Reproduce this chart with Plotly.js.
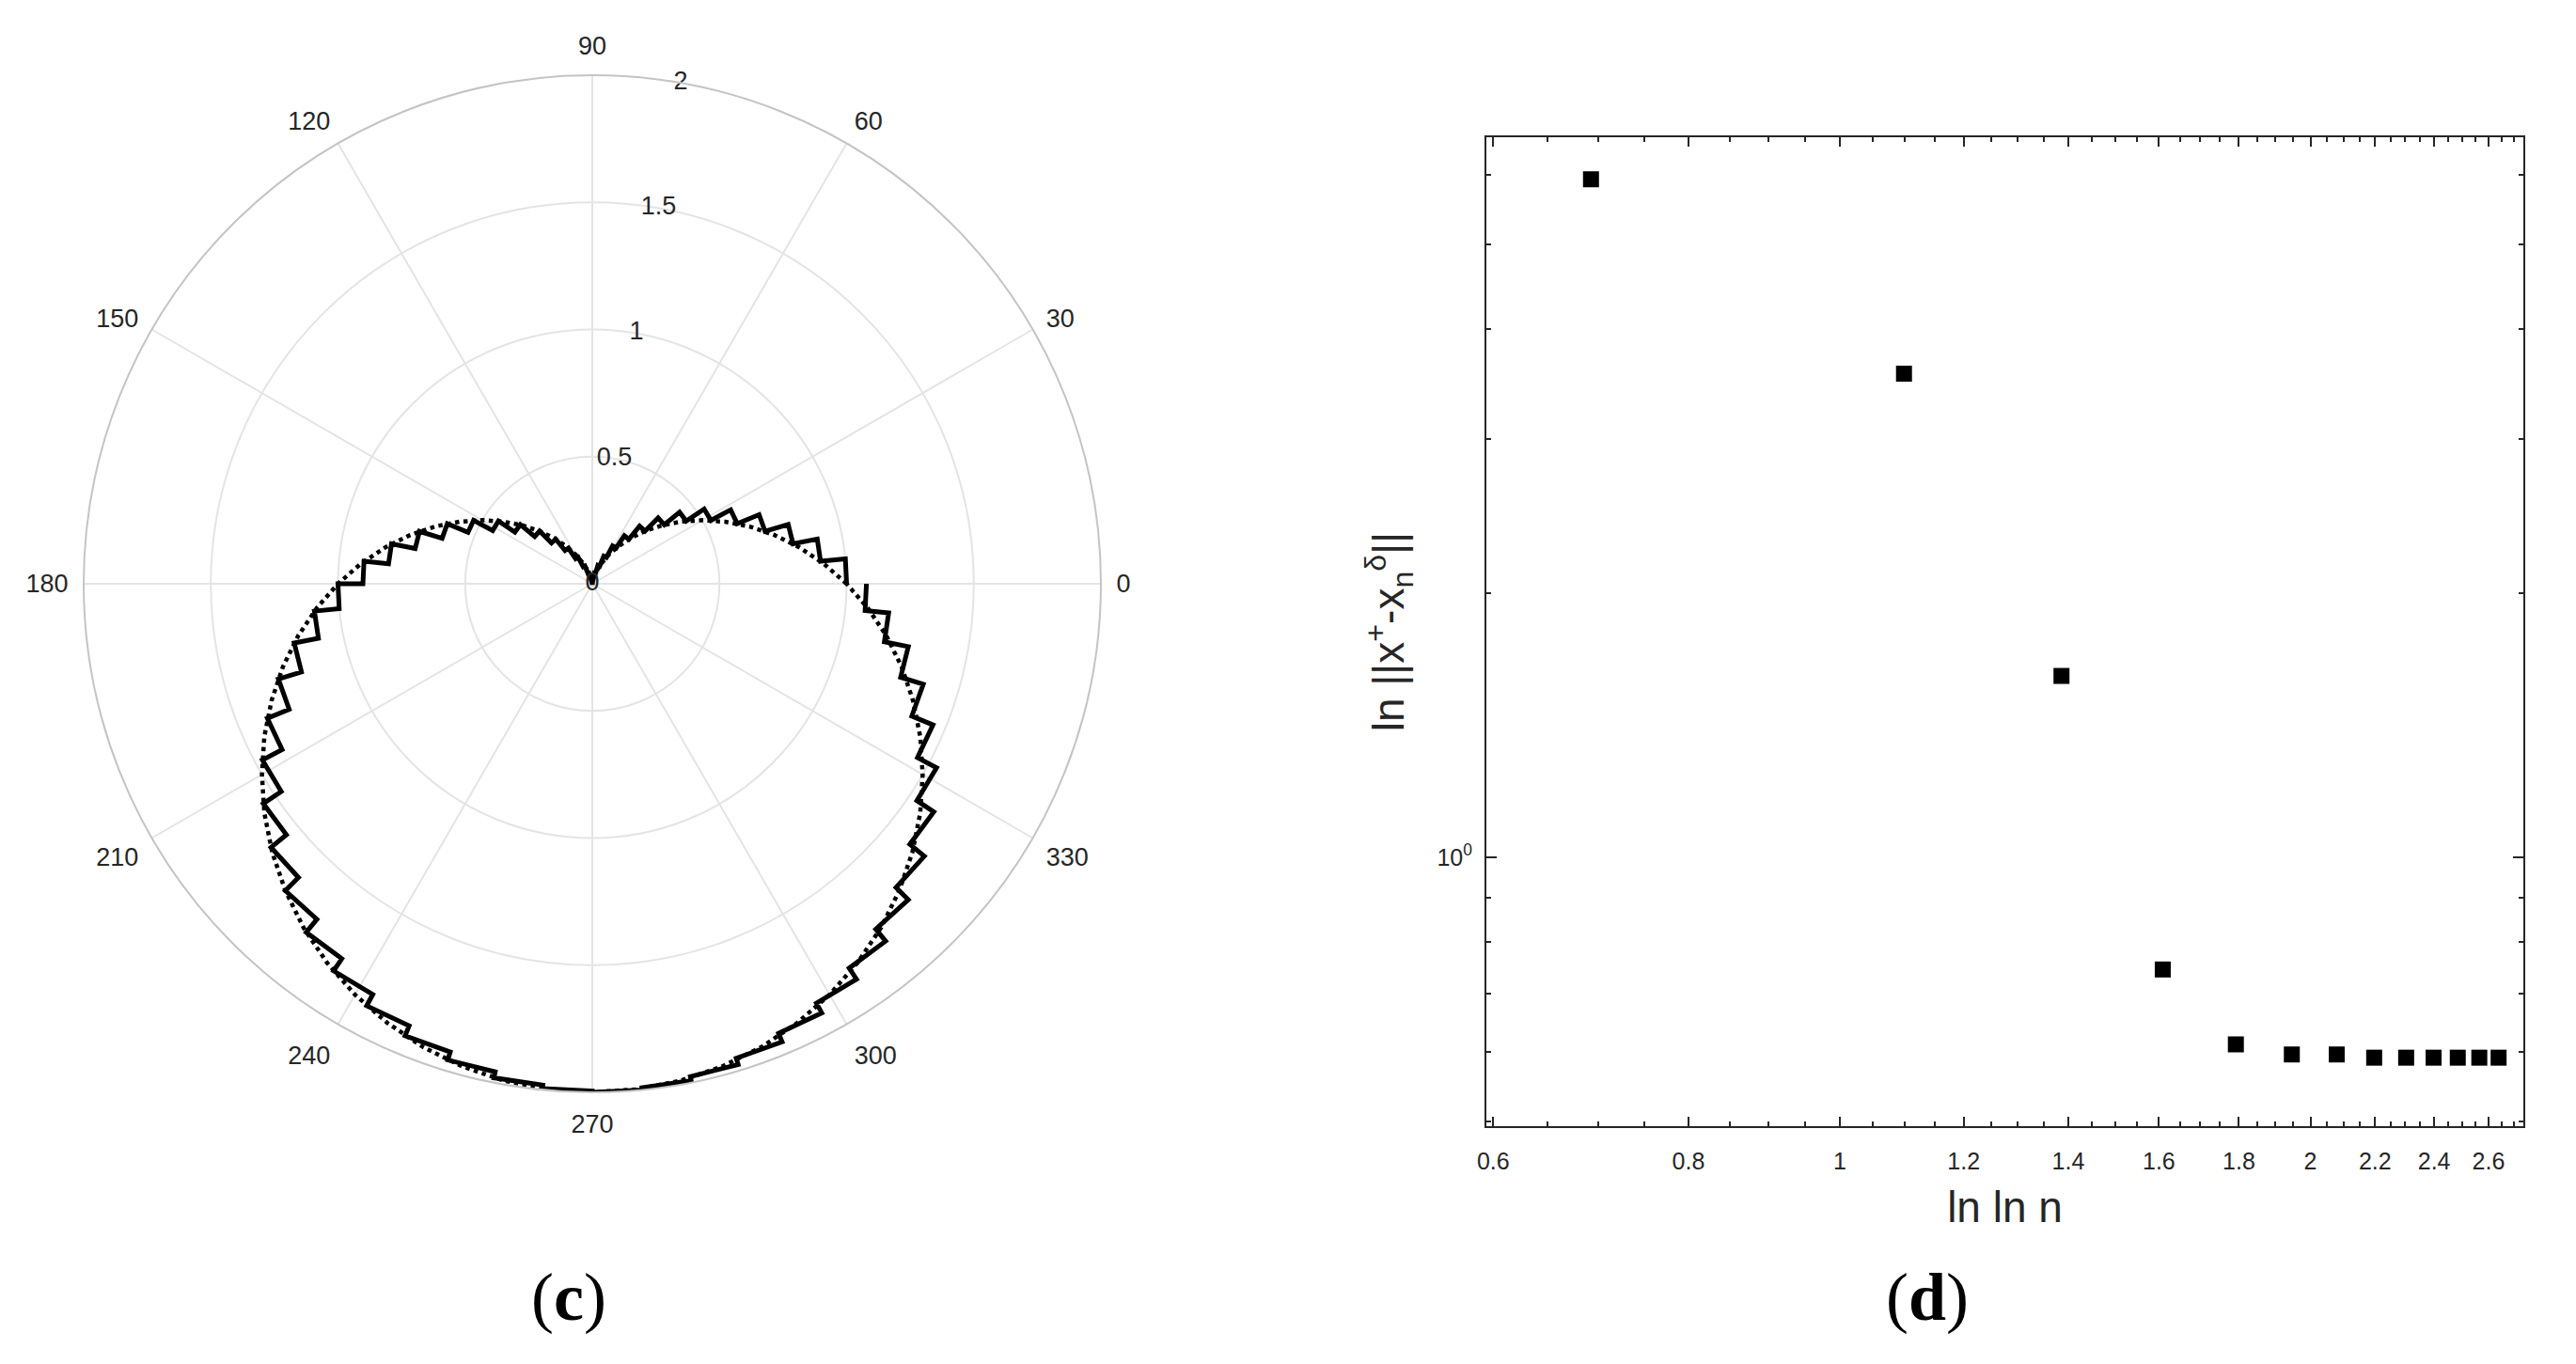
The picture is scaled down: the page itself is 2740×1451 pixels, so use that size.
<!DOCTYPE html>
<html><head><meta charset="utf-8">
<script src="https://cdn.plot.ly/plotly-3.0.1.min.js"></script>
<style>html,body{margin:0;padding:0;background:#fff;} #chart{width:2740px;height:1451px;}</style>
</head><body><div id="chart"></div>
<script>
// ---- panel (c): polar ----
const cardioidTheta = [0,5,10,15,20,25,30,35,40,45,50,55,60,65,70,75,80,85,90,95,100,105,110,115,120,125,130,135,140,145,150,155,160,165,170,175,180,185,190,195,200,205,210,215,220,225,230,235,240,245,250,255,260,265,270,275,280,285,290,295,300,305,310,315,320,325,330,335,340,345,350,355,360];
const cardioidR = [1.000,0.913,0.826,0.741,0.658,0.577,0.500,0.426,0.357,0.293,0.234,0.181,0.134,0.094,0.060,0.034,0.015,0.004,0.000,0.004,0.015,0.034,0.060,0.094,0.134,0.181,0.234,0.293,0.357,0.426,0.500,0.577,0.658,0.741,0.826,0.913,1.000,1.087,1.174,1.259,1.342,1.423,1.500,1.574,1.643,1.707,1.766,1.819,1.866,1.906,1.940,1.966,1.985,1.996,2.000,1.996,1.985,1.966,1.940,1.906,1.866,1.819,1.766,1.707,1.643,1.574,1.500,1.423,1.342,1.259,1.174,1.087,1.000];
const stairEdges = [0,5.625,11.25,16.875,22.5,28.125,33.75,39.375,45,50.625,56.25,61.875,67.5,73.125,78.75,84.375,90,95.625,101.25,106.875,112.5,118.125,123.75,129.375,135,140.625,146.25,151.875,157.5,163.125,168.75,174.375,180,185.625,191.25,196.875,202.5,208.125,213.75,219.375,225,230.625,236.25,241.875,247.5,253.125,258.75,264.375,270,275.625,281.25,286.875,292.5,298.125,303.75,309.375,315,320.625,326.25,331.875,337.5,343.125,348.75,354.375,360];
const stairR = [1.000,0.902,0.805,0.710,0.617,0.529,0.444,0.366,0.293,0.227,0.169,0.118,0.076,0.043,0.019,0.005,0.000,0.005,0.019,0.043,0.076,0.118,0.169,0.227,0.293,0.366,0.444,0.529,0.617,0.710,0.805,0.902,1.000,1.098,1.195,1.290,1.383,1.471,1.556,1.634,1.707,1.773,1.831,1.882,1.924,1.957,1.981,1.995,2.000,1.992,1.976,1.950,1.914,1.870,1.818,1.757,1.689,1.615,1.535,1.450,1.360,1.267,1.171,1.078];
const radialTickVals = [0,0.5,1,1.5,2];
const radialTickText = ['0','0.5','1','1.5','2'];
const angularTickVals = [0,30,60,90,120,150,180,210,240,270,300,330];
const angularTickText = ['0','30','60','90','120','150','180','210','240','270','300','330'];

// ---- panel (d): log-log scatter ----
const xVals = [0.693,1.099,1.386,1.609,1.792,1.946,2.079,2.197,2.303,2.398,2.485,2.565,2.639];
const yVals = [5.93,3.56,1.61,0.745,0.612,0.596,0.596,0.591,0.591,0.591,0.591,0.591,0.591];
const xTickVals = [0.6,0.8,1,1.2,1.4,1.6,1.8,2,2.2,2.4,2.6];
const xTickText = ['0.6','0.8','1','1.2','1.4','1.6','1.8','2','2.2','2.4','2.6'];
const xMinorTicks = [0.65,0.7,0.75,0.85,0.9,0.95,1.05,1.1,1.15,1.25,1.3,1.35,1.45,1.5,1.55,1.65,1.7,1.75,1.85,1.9,1.95,2.05,2.1,2.15,2.25,2.3,2.35,2.45,2.5,2.55,2.65,2.7];
const yTickVals = [1];
const yTickText = ['10<sup>0</sup>'];
const yMinorTicks = [0.5,0.6,0.7,0.8,0.9,2,3,4,5,6];

const stairTheta = [], stairRad = [];
for (let k = 0; k < stairR.length; k++) {
  stairTheta.push(stairEdges[k], stairEdges[k+1]);
  stairRad.push(stairR[k], stairR[k]);
}

const FONT = 'Liberation Sans, Arial, Helvetica, sans-serif';
const TXT = '#262626';
const W = 2740, H = 1451;

const traces = [
  {type:'scatterpolar', subplot:'polar', r:cardioidR, theta:cardioidTheta, mode:'lines',
   line:{color:'#000', width:4.5, dash:'dot'}, hoverinfo:'skip', showlegend:false},
  {type:'scatterpolar', subplot:'polar', r:stairRad, theta:stairTheta, mode:'lines',
   line:{color:'#000', width:5}, hoverinfo:'skip', showlegend:false},
  {type:'scatterpolar', subplot:'polar', r:radialTickVals, theta:radialTickVals.map(()=>80), mode:'text',
   text:radialTickText, textposition:'middle center', textfont:{family:FONT, size:27, color:TXT},
   hoverinfo:'skip', showlegend:false, cliponaxis:false},
  {type:'scatter', x:xVals, y:yVals, mode:'markers', xaxis:'x', yaxis:'y',
   marker:{symbol:'square', size:17, color:'#000'}, hoverinfo:'skip', showlegend:false}
];

const cx = 630, cy = 621, R = 541;
const layout = {
  width:W, height:H, margin:{l:0,r:0,t:0,b:0}, paper_bgcolor:'#fff', plot_bgcolor:'#fff',
  showlegend:false, font:{family:FONT, color:TXT},
  polar:{
    domain:{x:[(cx-R)/W,(cx+R)/W], y:[1-(cy+R)/H, 1-(cy-R)/H]},
    bgcolor:'#fff',
    radialaxis:{range:[0,2], tickmode:'array', tickvals:[0.5,1,1.5,2], showticklabels:false, ticks:'',
      showline:false, gridcolor:'#e4e4e4', gridwidth:2, angle:80},
    angularaxis:{rotation:0, direction:'counterclockwise', tickmode:'array', tickvals:angularTickVals,
      ticktext:angularTickText, showline:true, linecolor:'#c4c4c4', linewidth:2,
      gridcolor:'#e4e4e4', gridwidth:2, ticks:'outside', ticklen:10, tickcolor:'rgba(0,0,0,0)',
      tickfont:{family:FONT, size:27, color:TXT}}
  },
  xaxis:{type:'log', domain:[1581/W, 2684/W], range:[Math.log10(0.594), Math.log10(2.737)],
    anchor:'y', tickmode:'array', tickvals:xTickVals, ticktext:xTickText,
    ticks:'inside', ticklen:10, tickwidth:2, tickcolor:TXT, showline:true, linecolor:TXT, linewidth:2,
    mirror:'ticks', showgrid:false, zeroline:false, ticklabelstandoff:14,
    tickfont:{family:FONT, size:25, color:TXT},
    minor:{tickmode:'array', tickvals:xMinorTicks, ticks:'inside', ticklen:5, tickwidth:2, tickcolor:TXT, showgrid:false},
    title:{text:'ln ln n', font:{family:FONT, size:46, color:TXT}, standoff:20}},
  yaxis:{type:'log', domain:[1-1198/H, 1-146/H], range:[-0.3065, 0.821],
    anchor:'x', tickmode:'array', tickvals:yTickVals, ticktext:yTickText,
    ticks:'inside', ticklen:11, tickwidth:2, tickcolor:TXT, showline:true, linecolor:TXT, linewidth:2,
    mirror:'ticks', showgrid:false, zeroline:false, ticklabelstandoff:8,
    tickfont:{family:FONT, size:25, color:TXT},
    minor:{tickmode:'array', tickvals:yMinorTicks, ticks:'inside', ticklen:5, tickwidth:2, tickcolor:TXT, showgrid:false},
    title:{text:'ln ||x<sup>+</sup>-x<sub>n</sub><sup>δ</sup>||', font:{family:FONT, size:46, color:TXT}, standoff:20}},
  annotations:[
    {xref:'paper', yref:'paper', x:605/W, y:1-1380/H, text:'(<b>c</b>)', showarrow:false,
     font:{family:'Liberation Serif, Times New Roman, serif', size:72, color:'#000'}, xanchor:'center', yanchor:'middle'},
    {xref:'paper', yref:'paper', x:2050/W, y:1-1380/H, text:'(<b>d</b>)', showarrow:false,
     font:{family:'Liberation Serif, Times New Roman, serif', size:72, color:'#000'}, xanchor:'center', yanchor:'middle'}
  ]
};

Plotly.newPlot('chart', traces, layout, {staticPlot:true, displayModeBar:false});
</script>
</body></html>
